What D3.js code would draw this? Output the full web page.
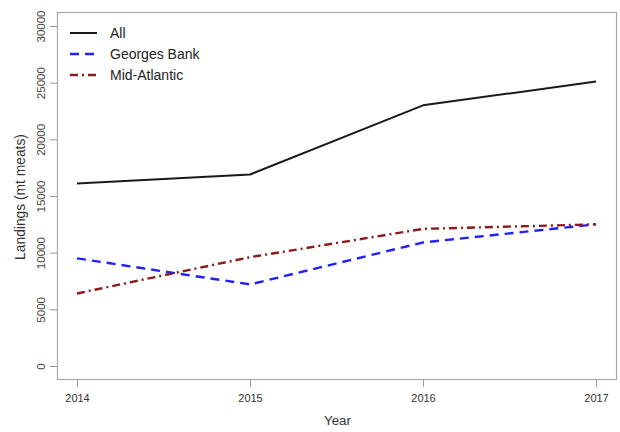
<!DOCTYPE html>
<html>
<head>
<meta charset="utf-8">
<script src="https://cdn.jsdelivr.net/npm/d3@7"></script>
<style>
  html, body { margin: 0; padding: 0; background: #fff; }
  svg { display: block; font-family: "Liberation Sans", Arial, sans-serif; }
</style>
</head>
<body>
<svg id="chart" width="620" height="432"></svg>
<script>
// Annual scallop landings (mt meats) by region
const years = [2014, 2015, 2016, 2017];
const allLandings = [16100, 16900, 23000, 25100];
const georgesBank = [9500, 7200, 10900, 12500];
const midAtlantic = [6400, 9600, 12100, 12500];
const yTicks = [0, 5000, 10000, 15000, 20000, 25000, 30000];
const seriesNames = ["All", "Georges Bank", "Mid-Atlantic"];

const series = [
  { name: seriesNames[0], values: allLandings, color: "#1a1a1a", width: 2, dash: null },
  { name: seriesNames[1], values: georgesBank, color: "#2020ff", width: 2.4, dash: "9,6" },
  { name: seriesNames[2], values: midAtlantic, color: "#8b1a1a", width: 2.4, dash: "8,4,2,4" }
];

const svg = d3.select("#chart");
const box = { left: 57, right: 617, top: 12, bottom: 380 };

const x = d3.scaleLinear().domain([2014, 2017]).range([77, 596]);
const y = d3.scaleLinear().domain([0, 30000]).range([366, 26]);

// plot frame
svg.append("rect")
  .attr("x", box.left + 0.5).attr("y", box.top + 0.5)
  .attr("width", box.right - box.left - 1).attr("height", box.bottom - box.top - 1)
  .attr("fill", "none").attr("stroke", "#a8a8a8").attr("stroke-width", 1.2);

// y axis (rotated labels)
const yAxis = svg.append("g")
  .attr("transform", `translate(${box.left},0)`)
  .call(d3.axisLeft(y).tickValues(yTicks).tickFormat(d3.format("d")).tickSize(7).tickPadding(4));
yAxis.select(".domain").remove();
yAxis.selectAll(".tick line").attr("stroke", "#999");
yAxis.selectAll(".tick text")
  .attr("fill", "#444").attr("font-size", 11.5)
  .attr("transform", "rotate(-90)")
  .attr("x", 0).attr("y", -12)
  .attr("text-anchor", "middle")
  .attr("dy", 0);

// x axis
const xAxis = svg.append("g")
  .attr("transform", `translate(0,${box.bottom})`)
  .call(d3.axisBottom(x).tickValues(years).tickFormat(d3.format("d")).tickSize(7).tickPadding(7));
xAxis.select(".domain").remove();
xAxis.selectAll(".tick line").attr("stroke", "#999");
xAxis.selectAll(".tick text").attr("fill", "#333").attr("font-size", 11);

// axis titles
svg.append("text")
  .attr("x", 337.5).attr("y", 425)
  .attr("text-anchor", "middle").attr("font-size", 13.3).attr("fill", "#333")
  .text("Year");
svg.append("text")
  .attr("transform", "translate(25,197) rotate(-90)")
  .attr("text-anchor", "middle").attr("font-size", 13.8).attr("fill", "#333")
  .text("Landings (mt meats)");

// series lines
const line = d3.line().x((d, i) => x(years[i])).y(d => y(d));
series.forEach(s => {
  svg.append("path")
    .datum(s.values)
    .attr("d", line)
    .attr("fill", "none")
    .attr("stroke", s.color)
    .attr("stroke-width", s.width)
    .attr("stroke-dasharray", s.dash)
    .attr("stroke-linejoin", "round");
});

// legend
const legend = svg.append("g");
series.forEach((s, i) => {
  const ly = 33 + i * 21;
  legend.append("line")
    .attr("x1", 70).attr("x2", 97).attr("y1", ly).attr("y2", ly)
    .attr("stroke", s.color).attr("stroke-width", s.width)
    .attr("stroke-dasharray", s.dash);
  legend.append("text")
    .attr("x", 110).attr("y", ly).attr("dy", "0.35em")
    .attr("font-size", 14).attr("fill", "#222")
    .text(s.name);
});
</script>
</body>
</html>
